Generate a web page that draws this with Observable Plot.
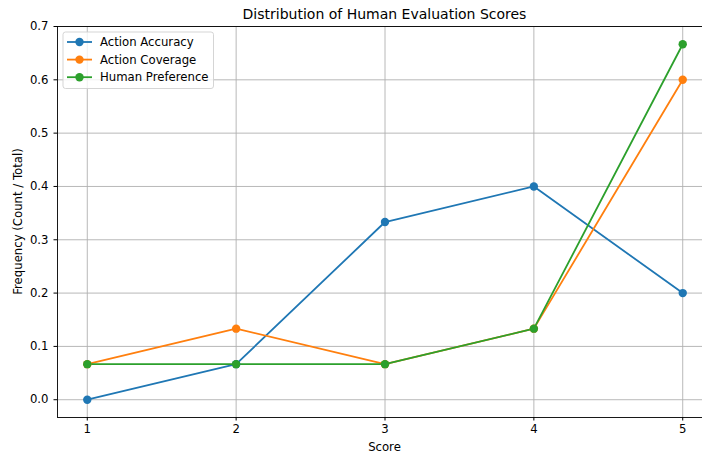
<!DOCTYPE html>
<html><head><meta charset="utf-8">
<script src="https://cdn.jsdelivr.net/npm/d3@7"></script>
<script src="https://cdn.jsdelivr.net/npm/@observablehq/plot@0.6"></script>
<style>
html,body{margin:0;padding:0;overflow:hidden;background:#fff;}
#chart{position:relative;width:702px;height:452px;overflow:hidden;}
#chart svg{max-width:none !important;width:712px;height:452px;}
</style></head>
<body><div id="chart"></div>
<script>
const scores = [1, 2, 3, 4, 5];
const actionAccuracy = [0.0, 0.0667, 0.3333, 0.4, 0.2];
const actionCoverage = [0.0667, 0.1333, 0.0667, 0.1333, 0.6];
const humanPreference = [0.0667, 0.0667, 0.0667, 0.1333, 0.6667];
const seriesNames = ["Action Accuracy", "Action Coverage", "Human Preference"];
const seriesColors = ["#1f77b4", "#ff7f0e", "#2ca02c"];
const yTicks = [0, 0.1, 0.2, 0.3, 0.4, 0.5, 0.6, 0.7];
const title = "Distribution of Human Evaluation Scores";

const allSeries = [actionAccuracy, actionCoverage, humanPreference];
const rows = [];
allSeries.forEach((vals, i) => vals.forEach((v, j) => rows.push({score: scores[j], value: v, series: seriesNames[i]})));

const font = "DejaVu Sans, sans-serif";
const fs = 11.7;
const W = 712, H = 452;
const plot = Plot.plot({
  width: W, height: H,
  marginLeft: 57, marginRight: 0, marginTop: 26, marginBottom: 35,
  style: {fontFamily: font, fontSize: fs + "px", color: "#000", background: "#fff", maxWidth: "none"},
  x: {domain: [0.8, 5.2], ticks: scores, label: null},
  y: {domain: [-0.03333, 0.7], ticks: yTicks, label: null},
  color: {domain: seriesNames, range: seriesColors},
  marks: [
    Plot.gridX(scores, {stroke: "#b0b0b0", strokeOpacity: 1, strokeWidth: 0.9}),
    Plot.gridY(yTicks, {stroke: "#b0b0b0", strokeOpacity: 1, strokeWidth: 0.9}),
    Plot.axisX(scores, {tickSize: 3.5, tickPadding: 4, tickFormat: d => String(d), fontSize: fs, stroke: "#000", fill: "#000"}),
    Plot.axisY(yTicks, {tickSize: 3.5, tickPadding: 5.5, tickFormat: d3.format(".1f"), fontSize: fs, stroke: "#000", fill: "#000"}),
    Plot.line(rows, {x: "score", y: "value", z: "series", stroke: "series", strokeWidth: 1.8}),
    Plot.dot(rows, {x: "score", y: "value", fill: "series", r: 4.2, stroke: null}),
    Plot.frame({stroke: "#000", strokeWidth: 0.9})
  ]
});
document.getElementById("chart").appendChild(plot);

const svg = d3.select(plot);
const x0 = 57, x1 = W, yTop = 26, yBot = H - 35;
svg.append("text").attr("x", (x0 + x1) / 2).attr("y", 18.5).attr("text-anchor", "middle")
  .attr("font-family", font).attr("font-size", 14).attr("fill", "#000").text(title);
svg.append("text").attr("x", (x0 + x1) / 2).attr("y", 450.5).attr("text-anchor", "middle")
  .attr("font-family", font).attr("font-size", fs).attr("fill", "#000").text("Score");
svg.append("text").attr("transform", `translate(22,${(yTop + yBot) / 2}) rotate(-90)`).attr("text-anchor", "middle")
  .attr("font-family", font).attr("font-size", fs).attr("fill", "#000").text("Frequency (Count / Total)");

// legend
const lg = svg.append("g");
lg.append("rect").attr("x", 63).attr("y", 32).attr("width", 150.5).attr("height", 56.5).attr("rx", 2.5)
  .attr("fill", "#fff").attr("fill-opacity", 0.8).attr("stroke", "#d0d0d0").attr("stroke-width", 0.9);
seriesNames.forEach((name, i) => {
  const cy = 42 + i * 17.6;
  lg.append("line").attr("x1", 67).attr("x2", 92).attr("y1", cy).attr("y2", cy)
    .attr("stroke", seriesColors[i]).attr("stroke-width", 1.8);
  lg.append("circle").attr("cx", 79.5).attr("cy", cy).attr("r", 4.2).attr("fill", seriesColors[i]);
  lg.append("text").attr("x", 100).attr("y", cy + 4.2).attr("text-anchor", "start").attr("font-family", font).attr("font-size", fs)
    .attr("fill", "#000").text(name);
});
</script></body></html>
